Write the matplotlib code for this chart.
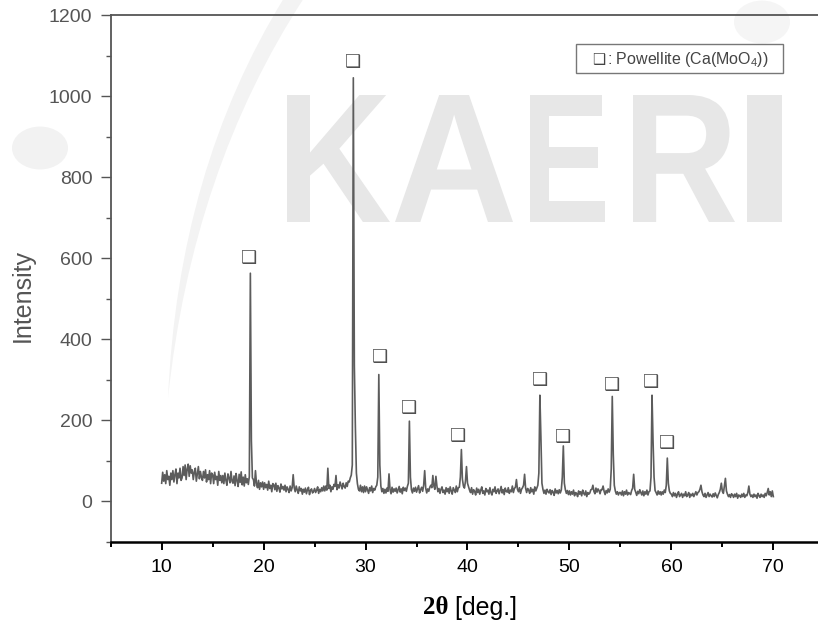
import matplotlib
matplotlib.use("Agg")
import numpy as np
import matplotlib.pyplot as plt
from matplotlib.textpath import TextPath
from matplotlib.patches import PathPatch, Circle, Rectangle
from matplotlib.path import Path
from matplotlib.font_manager import FontProperties
from matplotlib.transforms import Affine2D
from matplotlib.ticker import MultipleLocator

plt.rcParams['font.family'] = ['Liberation Sans', 'DejaVu Sans']
plt.rcParams['mathtext.fontset'] = 'custom'
plt.rcParams['mathtext.rm'] = 'Liberation Sans'
plt.rcParams['mathtext.default'] = 'regular'

# ---------------- data ----------------
# XRD scan: 10.0 to 70.0 deg, 0.1 deg steps (one row per degree)
scan_start = 10.0
scan_step = 0.1
intensity = [
    45, 72, 50, 66, 44, 76, 54, 62, 40, 70,
    54, 76, 48, 66, 80, 44, 70, 58, 82, 52,
    58, 86, 64, 90, 54, 80, 92, 62, 88, 70,
    78, 54, 72, 82, 50, 68, 86, 56, 74, 60,
    52, 74, 58, 78, 48, 66, 54, 76, 44, 70,
    66, 44, 72, 54, 62, 40, 74, 52, 64, 46,
    64, 44, 70, 52, 40, 68, 58, 46, 74, 50,
    45, 63, 39, 69, 51, 37, 67, 47, 73, 41,
    60, 38, 66, 46, 56, 42, 62, 563, 150, 58,
    54, 38, 76, 44, 34, 52, 30, 46, 36, 48,
    30, 46, 34, 42, 28, 50, 32, 40, 24, 44,
    41, 29, 45, 25, 39, 33, 23, 43, 31, 37,
    28, 40, 24, 36, 30, 22, 38, 26, 34, 66,
    34, 24, 38, 28, 20, 36, 26, 32, 18, 30,
    23, 33, 19, 29, 35, 17, 27, 31, 21, 25,
    32, 22, 28, 36, 20, 30, 24, 34, 26, 38,
    26, 38, 28, 82, 32, 40, 24, 36, 30, 42,
    37, 64, 29, 41, 33, 48, 39, 31, 45, 37,
    33, 46, 37, 50, 48, 58, 65, 90, 1045, 336,
    185, 70, 44, 30, 26, 40, 24, 36, 22, 38,
    24, 36, 28, 20, 34, 26, 38, 22, 32, 28,
    36, 40, 60, 313, 90, 38, 24, 32, 20, 30,
    21, 33, 25, 68, 29, 19, 35, 23, 31, 25,
    33, 21, 29, 37, 23, 31, 19, 35, 27, 33,
    25, 37, 45, 198, 60, 29, 21, 33, 25, 35,
    23, 31, 39, 21, 29, 35, 25, 40, 76, 33,
    21, 31, 25, 35, 40, 34, 64, 38, 30, 62,
    38, 24, 32, 20, 30, 36, 22, 28, 18, 34,
    24, 32, 20, 36, 26, 18, 34, 28, 22, 38,
    24, 34, 35, 60, 128, 55, 38, 33, 50, 86,
    45, 36, 28, 22, 34, 18, 29, 25, 16, 33,
    22, 30, 18, 28, 36, 20, 26, 16, 32, 24,
    28, 18, 34, 22, 16, 30, 24, 36, 20, 26,
    31, 19, 27, 37, 21, 29, 17, 33, 25, 23,
    34, 20, 28, 24, 38, 22, 32, 35, 54, 30,
    24, 34, 20, 30, 34, 40, 67, 33, 22, 32,
    28, 20, 34, 24, 30, 18, 36, 26, 33, 40,
    70, 262, 160, 45, 30, 20, 28, 18, 30, 24,
    21, 29, 17, 27, 23, 15, 31, 21, 27, 19,
    29, 21, 28, 60, 137, 45, 29, 20, 27, 17,
    26, 16, 24, 18, 28, 14, 22, 20, 12, 26,
    18, 24, 14, 28, 20, 16, 26, 12, 22, 18,
    21, 29, 30, 40, 25, 19, 33, 23, 31, 27,
    19, 29, 29, 38, 25, 17, 27, 21, 31, 23,
    30, 80, 259, 116, 40, 26, 18, 24, 16, 22,
    22, 16, 26, 14, 24, 18, 28, 16, 22, 20,
    17, 27, 33, 67, 30, 23, 15, 25, 19, 29,
    22, 16, 26, 14, 24, 18, 28, 16, 24, 26,
    60, 262, 150, 60, 27, 22, 16, 26, 18, 24,
    16, 24, 18, 28, 22, 40, 107, 45, 26, 20,
    18, 12, 22, 14, 20, 10, 18, 24, 12, 16,
    20, 10, 18, 14, 24, 12, 16, 22, 10, 18,
    14, 20, 12, 18, 24, 16, 22, 24, 30, 40,
    24, 16, 12, 20, 10, 16, 22, 12, 18, 14,
    11, 19, 12, 21, 15, 9, 17, 22, 30, 45,
    25, 20, 38, 57, 26, 18, 12, 17, 10, 19,
    16, 10, 18, 12, 20, 8, 16, 14, 10, 18,
    12, 20, 10, 16, 14, 22, 38, 18, 12, 16,
    10, 18, 12, 16, 8, 20, 14, 10, 18, 12,
    16, 10, 20, 14, 22, 32, 16, 24, 12, 26,
    12,
]
two_theta = np.round(scan_start + scan_step * np.arange(len(intensity)), 2)

marker_x = [18.6, 28.8, 31.4, 34.25, 39.1, 47.1, 49.4, 54.2, 58.0, 59.6]
marker_y = [600, 1084, 357, 231, 161, 300, 160, 287, 295, 145]

x_ticks = [10, 20, 30, 40, 50, 60, 70]
y_ticks = [0, 200, 400, 600, 800, 1000, 1200]
x_label_bold = "2θ"
x_label_rest = " [deg.]"
y_label = "Intensity"
legend_symbol = "❑"
legend_text = ": Powellite (Ca(MoO$_4$))"
watermark = "KAERI"

# ---------------- figure ----------------
W, H = 818, 626
fig = plt.figure(figsize=(W / 100, H / 100), dpi=100)
fig.patch.set_facecolor('white')


def px(x, y):
    return (x / W, 1 - y / H)


# faint background logo
crescent = Path([px(284, -2), px(178, 170), px(168, 398), px(192, 170), px(304, -2), px(284, -2)],
                [Path.MOVETO, Path.CURVE3, Path.CURVE3, Path.CURVE3, Path.CURVE3, Path.CLOSEPOLY])
fig.add_artist(PathPatch(crescent, facecolor='#f3f3f3', edgecolor='none',
                         transform=fig.transFigure, zorder=-3))
fig.add_artist(Circle(px(40, 148), 28 / W, facecolor='#f2f2f2', edgecolor='none',
                      transform=fig.transFigure, zorder=-3))
fig.add_artist(Circle(px(762, 22), 28 / W, facecolor='#f5f5f5', edgecolor='none',
                      transform=fig.transFigure, zorder=-3))

fp = FontProperties(family='Liberation Sans', weight='bold')
boxes = [(287, 390), (395, 513), (530, 605), (633, 735), (747, 782)]
ytop, ybot = 95, 222
for ch, (x0, x1) in zip(watermark, boxes):
    tp = TextPath((0, 0), ch, size=100, prop=fp)
    ext = tp.get_extents()
    sx = (x1 - x0) / ext.width / W
    sy = (ybot - ytop) / ext.height / H
    tr = (Affine2D().translate(-ext.x0, -ext.y0).scale(sx, sy)
          .translate(x0 / W, 1 - ybot / H))
    fig.add_artist(PathPatch(tr.transform_path(tp), facecolor='#e7e7e7',
                             edgecolor='none', transform=fig.transFigure, zorder=-2))

ax = fig.add_axes([110.7 / W, 1 - 542 / H, (824.3 - 110.7) / W, (542 - 15) / H])
ax.set_facecolor('none')

ax.plot(two_theta, intensity, color='#5c5c5c', lw=1.2)

for mx, my in zip(marker_x, marker_y):
    ax.text(mx, my, legend_symbol, ha='center', va='center', fontsize=13, color='#505050',
            family=['DejaVu Sans'], weight='bold')

ax.set_xlim(5, 75)
ax.set_ylim(-100, 1200)
ax.set_xticks(x_ticks)
ax.set_yticks(y_ticks)
ax.xaxis.set_minor_locator(MultipleLocator(5))
ax.yaxis.set_minor_locator(MultipleLocator(100))

ax.tick_params(axis='y', which='major', direction='out', length=7.2, width=1.0,
               color='#555555', labelcolor='#555555', labelsize=14, pad=6)
ax.tick_params(axis='y', which='minor', direction='out', length=3.6, width=1.0,
               color='#555555')
ax.tick_params(axis='x', which='major', direction='out', length=6, width=1.4,
               color='black', labelcolor='black', labelsize=14, pad=6)
ax.tick_params(axis='x', which='minor', direction='out', length=3.6, width=1.4,
               color='black')

for s in ('left', 'top', 'right'):
    ax.spines[s].set_color('#555555')
    ax.spines[s].set_linewidth(1.3)
ax.spines['bottom'].set_color('black')
ax.spines['bottom'].set_linewidth(1.8)

# legend box
fig.add_artist(Rectangle(px(576, 73), (783 - 576) / W, (73 - 44) / H, facecolor='white',
                         edgecolor='#777777', lw=1.0, transform=fig.transFigure, zorder=3))
fig.text(592 / W, 1 - 64 / H, legend_symbol, ha='left', va='baseline', fontsize=10.5,
         color='#444444', family=['DejaVu Sans'], weight='bold', zorder=4)
fig.text(607 / W, 1 - 64 / H, legend_text, ha='left', va='baseline', fontsize=11.5,
         color='#444444', zorder=4)

# axis labels
fig.text(23 / W, 1 - 295 / H, y_label, rotation=90, ha='center', va='center',
         fontsize=18, color='#555555')
fig.text(448 / W, 1 - 608 / H, x_label_bold, ha='right', va='center', fontsize=18,
         family=['Liberation Serif', 'DejaVu Serif'], weight='bold', color='black')
fig.text(448 / W, 1 - 608 / H, x_label_rest, ha='left', va='center', fontsize=18,
         color='black')

fig.savefig('out.png', dpi=100)
